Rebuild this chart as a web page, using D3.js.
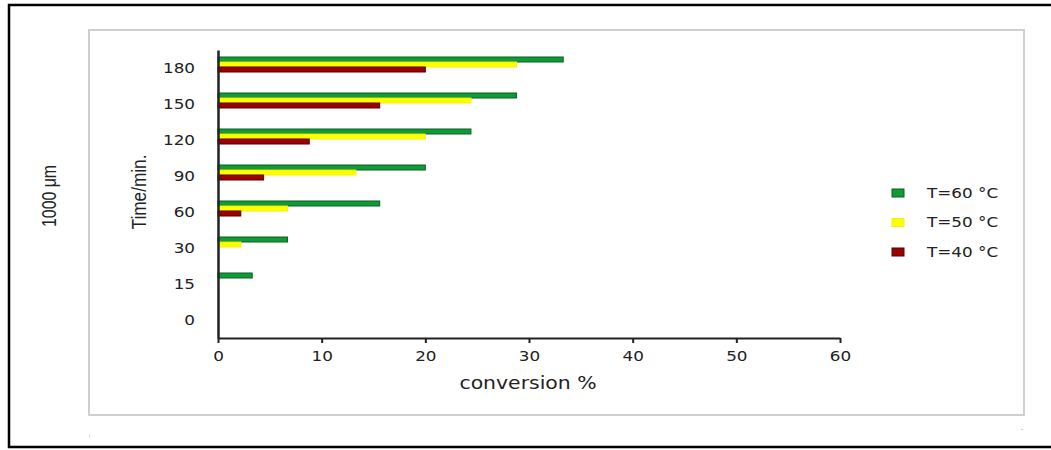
<!DOCTYPE html>
<html>
<head>
<meta charset="utf-8">
<script src="https://cdn.jsdelivr.net/npm/d3@7"></script>
<style>
  html, body { margin: 0; padding: 0; background: #fff; }
  svg { display: block; }
  text { font-family: "DejaVu Sans", "Open Sans", sans-serif; fill: #222; }
</style>
</head>
<body>
<svg id="chart" width="1051" height="450"></svg>
<script>
// Reaction times (minutes), bottom-to-top on the category axis
const times = ["0", "15", "30", "60", "90", "120", "150", "180"];
// Conversion % per temperature, aligned with `times`
const seriesNames = ["T=60 °C", "T=50 °C", "T=40 °C"];
const t60 = [0, 3.3, 6.7, 15.6, 20.0, 24.4, 28.8, 33.3];
const t50 = [0, 0, 2.2, 6.7, 13.3, 20.0, 24.4, 28.8];
const t40 = [0, 0, 0, 2.2, 4.4, 8.8, 15.6, 20.0];
const xTicks = [0, 10, 20, 30, 40, 50, 60];

const fills = ["#109a38", "#ffff00", "#9c0000"];
const strokes = ["#0b5e22", "#f2f200", "#5a0000"];

// wide geometric look for the labels: stretch glyphs horizontally
const WIDE = 1.2;

const svg = d3.select("#chart");

// outer frame (open on the right)
svg.append("path")
  .attr("d", "M1051,5 H9 V447 H1051")
  .attr("fill", "none").attr("stroke", "#000").attr("stroke-width", 2.5);

// chart area box
svg.append("rect")
  .attr("x", 89).attr("y", 30).attr("width", 935).attr("height", 385)
  .attr("fill", "#fff").attr("stroke", "#cfcfcf").attr("stroke-width", 2);

// small specks under the chart area
svg.append("rect").attr("x", 89).attr("y", 434).attr("width", 1).attr("height", 4).attr("fill", "#ddd");
svg.append("rect").attr("x", 1021).attr("y", 429).attr("width", 2).attr("height", 1).attr("fill", "#ccc");

const x = d3.scaleLinear().domain([0, 60]).range([218, 840]);
const y = d3.scaleBand().domain(times.slice().reverse()).range([50, 338]).padding(0);
const ySub = d3.scaleBand().domain(seriesNames).range([7, 22]).padding(0);

const seriesData = [t60, t50, t40];

const g = svg.append("g");
seriesData.forEach((vals, si) => {
  g.selectAll(null)
    .data(times.map((t, i) => ({ t, v: vals[i] })).filter(d => d.v > 0))
    .enter().append("rect")
    .attr("x", x(0))
    .attr("y", d => y(d.t) + ySub(seriesNames[si]))
    .attr("width", d => x(d.v) - x(0))
    .attr("height", ySub.bandwidth())
    .attr("fill", fills[si])
    .attr("stroke", strokes[si])
    .attr("stroke-width", 1);
});

// x axis
const xAxis = svg.append("g")
  .attr("transform", `translate(0,338)`)
  .call(d3.axisBottom(x).tickValues(xTicks).tickSize(5).tickPadding(8).tickSizeOuter(0));
xAxis.select(".domain").attr("stroke", "#222").attr("stroke-width", 2);
xAxis.selectAll(".tick line").attr("stroke", "#222").attr("stroke-width", 2);
xAxis.selectAll("text")
  .style("font-size", "14px").attr("fill", "#222")
  .attr("transform", `scale(${WIDE},1)`);

// y axis
const yAxis = svg.append("g")
  .attr("transform", `translate(218,0)`)
  .call(d3.axisLeft(y).tickSize(0).tickPadding(0));
yAxis.select(".domain").attr("stroke", "#222").attr("stroke-width", 2.5);
yAxis.selectAll("text")
  .style("font-size", "14px").attr("fill", "#222").attr("dy", "0.35em")
  .attr("x", -23 / WIDE)
  .attr("transform", `scale(${WIDE},1)`);

// axis titles
svg.append("text")
  .attr("transform", `translate(528,389) scale(${WIDE},1)`)
  .attr("text-anchor", "middle")
  .style("font-size", "17px")
  .text("conversion %");

svg.append("text")
  .attr("transform", "translate(146,192) rotate(-90)")
  .attr("text-anchor", "middle")
  .attr("textLength", 75).attr("lengthAdjust", "spacingAndGlyphs")
  .style("font-family", "'Liberation Sans Narrow', 'Liberation Sans', sans-serif")
  .style("font-size", "21px")
  .text("Time/min.");

svg.append("text")
  .attr("transform", "translate(56,196) rotate(-90)")
  .attr("text-anchor", "middle")
  .attr("textLength", 62).attr("lengthAdjust", "spacingAndGlyphs")
  .style("font-family", "'Liberation Sans Narrow', 'Liberation Sans', sans-serif")
  .style("font-size", "21px")
  .text("1000 μm");

// legend
const legend = svg.append("g");
seriesNames.forEach((name, i) => {
  const ly = 193 + i * 29.5;
  legend.append("rect")
    .attr("x", 892).attr("y", ly - 4).attr("width", 12).attr("height", 8)
    .attr("fill", fills[i]).attr("stroke", strokes[i]).attr("stroke-width", 1);
  legend.append("text")
    .attr("transform", `translate(927,${ly}) scale(${WIDE},1)`)
    .attr("dy", "0.35em")
    .style("font-size", "14px")
    .text(name);
});
</script>
</body>
</html>
